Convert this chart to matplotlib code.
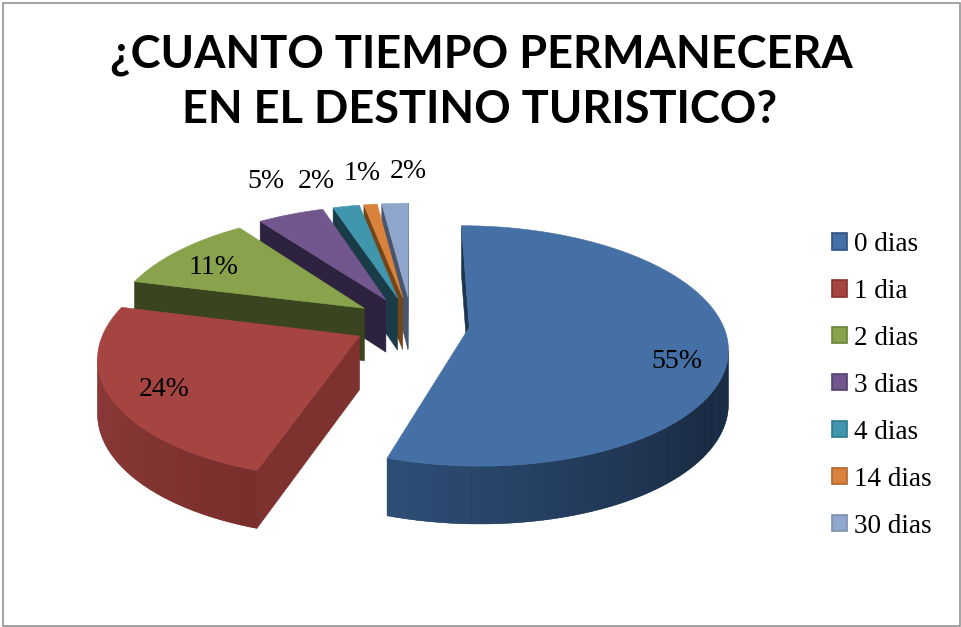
import numpy as np
import matplotlib
matplotlib.use("Agg")
import matplotlib.pyplot as plt
from matplotlib.patches import Patch, Rectangle
from matplotlib.colors import to_rgb

# datos del grafico
categories = ['0 dias', '1 dia', '2 dias', '3 dias', '4 dias', '14 dias', '30 dias']
values = [55, 24, 11, 5, 2, 1, 2]
title_lines = ['¿CUANTO TIEMPO PERMANECERA', 'EN EL DESTINO TURISTICO?']

top_colors = ['#4570a6', '#a64441', '#88a34c', '#71578d', '#4097ad', '#d9823b', '#8fa6cd']
edge_colors = ['#2f5280', '#8a2f2d', '#6b8433', '#54406f', '#2a7a8f', '#b5652a', '#7d90b0']
wall_colors = ['#1d3550', '#7d3230', '#3a441e', '#2d2340', '#1a3c48', '#734519', '#48556f']
# color de la pared curva: extremo en el frente / extremo en el lado
arc_front = ['#2e4f78', '#7a2f2d', '#3a441e', '#2d2340', '#1a3c48', '#734519', '#48556f']
arc_side = ['#1a2c44', '#903d3a', '#3a441e', '#2d2340', '#1a3c48', '#734519', '#48556f']

# posicion de las etiquetas en pixeles
label_xy = [(677, 361), (164, 389), (214, 267), (266, 182), (316, 181), (362, 173), (408, 171)]

# camara del pastel 3D
CX, CY = 411.5, 323
R = 253
KR = 116
P = 0.155
DEPTH = 53
EXPLODE = 0.23

SERIF = 'Liberation Serif'


def project(x, y):
    f = 1 / (1 + P * y)
    return CX + R * x * f, CY - KR * y * f, DEPTH * f ** 0.5


def mix(c1, c2, t):
    a, b = np.array(to_rgb(c1)), np.array(to_rgb(c2))
    return tuple(a + (b - a) * t)


fig = plt.figure(figsize=(9.61, 6.27), dpi=100)
ax = fig.add_axes([0, 0, 1, 1])
ax.set_xlim(0, 961)
ax.set_ylim(627, 0)
ax.axis('off')

# borde del grafico
ax.add_patch(Rectangle((2.5, 2.5), 957.5, 623.5, fill=False, edgecolor='#8a8a8a', lw=1.1))

total = float(sum(values))
starts = np.cumsum([0] + values[:-1]) / total * 360
spans = np.array(values) / total * 360

handles = []
# de atras hacia adelante
for i in [6, 5, 4, 3, 2, 1, 0]:
    a0 = np.radians(starts[i])
    a1 = np.radians(starts[i] + spans[i])
    mid = (a0 + a1) / 2
    ox, oy = EXPLODE * np.sin(mid), EXPLODE * np.cos(mid)
    ang = np.linspace(a0, a1, max(int(spans[i] / 2), 4))
    xs = ox + np.sin(ang)
    ys = oy + np.cos(ang)
    X, Y, D = project(xs, ys)
    ax0, ay0, ad0 = project(ox, oy)
    z = i * -3 + 30

    # paredes radiales, solo si miran al frente
    if X[0] < ax0:
        ax.fill([ax0, X[0], X[0], ax0], [ay0, Y[0], Y[0] + D[0], ay0 + ad0],
                color=wall_colors[i], lw=0.4, zorder=z)
    if X[-1] > ax0:
        ax.fill([X[-1], ax0, ax0, X[-1]], [Y[-1], ay0, ay0 + ad0, Y[-1] + D[-1]],
                color=wall_colors[i], lw=0.4, zorder=z)

    # pared curva: base entera y tiras encima
    vis = np.where(X[1:] < X[:-1])[0]
    if len(vis) > 0:
        k = np.r_[vis, vis[-1] + 1]
        ax.fill(np.r_[X[k], X[k][::-1]], np.r_[Y[k], (Y[k] + D[k])[::-1]],
                color=mix(arc_front[i], arc_side[i], 0.5), lw=0.3, zorder=z + 0.5)
    for j in vis:
        t = min(abs(np.degrees(ang[j]) - 198) / 72.0, 1)
        ax.fill([X[j], X[j + 1], X[j + 1], X[j]],
                [Y[j], Y[j + 1], Y[j + 1] + D[j + 1], Y[j] + D[j]],
                color=mix(arc_front[i], arc_side[i], t), lw=0, zorder=z + 1)

    # cara superior
    ax.fill(np.r_[ax0, X], np.r_[ay0, Y], color=top_colors[i], lw=0.4, zorder=z + 2)

for i in range(len(values)):
    handles.append(Patch(facecolor=top_colors[i], edgecolor=edge_colors[i], lw=1.2, label=categories[i]))
    ax.text(label_xy[i][0], label_xy[i][1], '%d%%' % values[i], family=SERIF, fontsize=20,
            ha='center', va='center', color='black', zorder=60)

ax.legend(handles=handles, loc='upper left', bbox_to_anchor=(832 / 961, 1 - 232 / 627), frameon=False,
          prop={'family': SERIF, 'size': 19.5}, handlelength=0.55, handleheight=0.55,
          handletextpad=0.26, labelspacing=0.81, borderpad=0, borderaxespad=0)

ax.text(481, 55, title_lines[0], family='Lato', weight='bold', fontsize=32.5, ha='center', va='center')
ax.text(480, 110, title_lines[1], family='Lato', weight='bold', fontsize=32.5, ha='center', va='center')

fig.savefig('out.png', dpi=100)
